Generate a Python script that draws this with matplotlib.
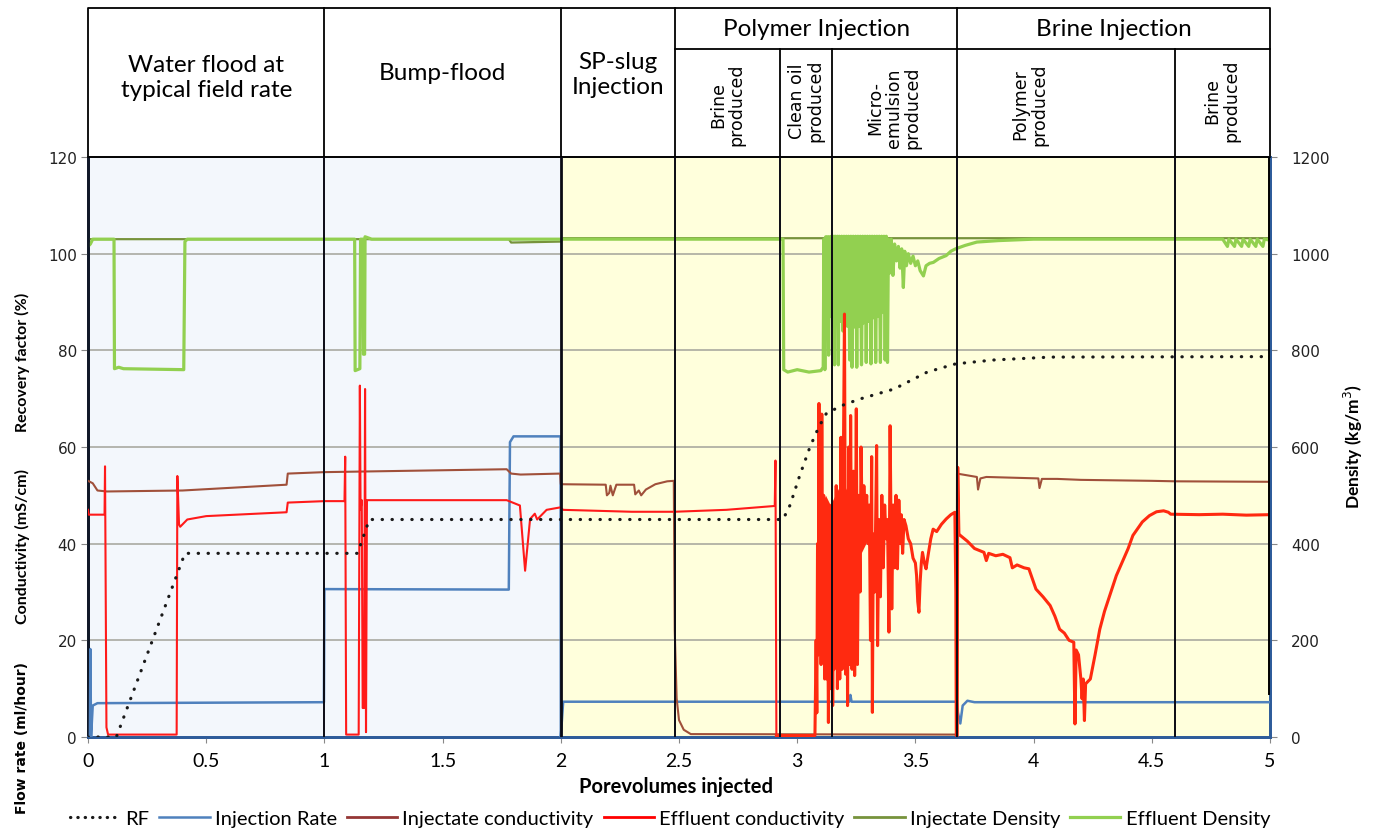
import numpy as np
import matplotlib
matplotlib.use("Agg")
import matplotlib.pyplot as plt
from matplotlib.lines import Line2D

# ---------------- data ----------------
rf_x = [0, 0.12, 0.41, 1.14, 1.19, 2.94, 2.97, 3.01, 3.054, 3.09, 3.124, 3.2, 3.27,
        3.41, 3.55, 3.67, 3.83, 4.07, 5.0]
rf_y = [0, 0, 38, 38, 45, 45, 48, 54, 60, 64, 67, 68.8, 70, 72, 75.5, 77.2, 78, 78.6, 78.7]

rate_x = [0, 0.008, 0.01, 0.013, 0.02, 0.04, 0.998, 1.0, 1.78, 1.785, 1.8, 1.999, 2.0,
          2.01, 3.22, 3.225, 3.23, 3.675, 3.68, 3.69, 3.70, 3.72, 3.75, 5.0]
rate_y = [0, 0, 18.2, 0, 6.5, 7.0, 7.2, 30.6, 30.5, 61, 62.2, 62.2, 0,
          7.3, 7.3, 8.7, 7.3, 7.3, 5.0, 2.8, 6.5, 7.5, 7.2, 7.2]

inj_cond_x = [0, 0.02, 0.04, 0.08, 0.4, 0.84, 0.845, 1.0, 1.771, 1.79, 1.83, 1.997,
              2.0, 2.19, 2.195, 2.205, 2.21, 2.22, 2.235, 2.31, 2.315, 2.33, 2.34, 2.36,
              2.4, 2.45, 2.478, 2.482, 2.49, 2.50, 2.52, 2.55, 3.674,
              3.676, 3.76, 3.765, 3.775, 3.8, 4.02, 4.025, 4.035, 4.1, 4.2, 4.5, 4.6, 5.0]
inj_cond_y = [53, 52.5, 51, 50.8, 51, 52.2, 54.5, 54.8, 55.4, 54.5, 54.3, 54.5,
              52.3, 52.2, 50, 50.5, 52, 50, 52.2, 52.2, 50.2, 51, 50, 51.2,
              52.3, 52.9, 53, 22, 8, 3.5, 1.5, 0.6, 0.5,
              54.5, 53.8, 51.2, 53.5, 53.8, 53.5, 51.5, 53.4, 53.4, 53.2, 53, 52.9, 52.8]

eff_cond_x = [0, 0.003, 0.07, 0.072, 0.078, 0.085, 0.375, 0.378, 0.385, 0.39, 0.42, 0.5,
              0.84, 0.845, 1.0, 1.085, 1.088, 1.092, 1.145, 1.15, 1.153, 1.158, 1.162,
              1.168, 1.172, 1.176, 1.18, 1.5, 1.771, 1.827, 1.849, 1.87, 1.89, 1.9,
              1.94, 1.997, 2.01, 2.3, 2.48, 2.7, 2.905, 2.908, 2.912,
              3.075, 3.08, 3.083, 3.086, 3.089, 3.092, 3.095, 3.098, 3.101, 3.104,
              3.108, 3.112, 3.116, 3.12, 3.124, 3.128, 3.132, 3.136, 3.14, 3.145,
              3.15, 3.155, 3.16, 3.165, 3.17, 3.175, 3.18, 3.185, 3.19, 3.195, 3.2,
              3.205, 3.21, 3.213, 3.218, 3.222, 3.226, 3.232, 3.238, 3.243, 3.25,
              3.255, 3.26, 3.266, 3.27, 3.276, 3.282, 3.288, 3.294, 3.3, 3.305, 3.31,
              3.315, 3.318, 3.322, 3.328, 3.336, 3.34, 3.346, 3.352, 3.358, 3.364,
              3.37, 3.376, 3.382, 3.388, 3.393, 3.4, 3.406, 3.412, 3.418, 3.424,
              3.43, 3.436, 3.44, 3.446, 3.452, 3.46, 3.47, 3.48, 3.49, 3.5, 3.505,
              3.51, 3.515, 3.52, 3.525, 3.53, 3.538, 3.545, 3.555, 3.565, 3.575,
              3.59, 3.61, 3.63, 3.65, 3.667, 3.671, 3.673, 3.677, 3.679, 3.684,
              3.69, 3.72, 3.75, 3.79, 3.8, 3.81, 3.84, 3.87, 3.9, 3.91, 3.93, 3.96,
              3.98, 4.0, 4.01, 4.04, 4.07, 4.09, 4.11, 4.13, 4.15, 4.17, 4.175,
              4.18, 4.19, 4.2, 4.205, 4.21, 4.215, 4.22, 4.24, 4.26, 4.28, 4.3,
              4.35, 4.4, 4.42, 4.46, 4.49, 4.52, 4.55, 4.57, 4.58, 4.7, 4.8, 4.9, 5.0]
eff_cond_y = [47, 46, 46, 56, 2, 0.5, 0.5, 54, 44, 43.5, 45, 45.7,
              46.5, 48.5, 48.8, 48.8, 58, 0.5, 0.5, 72.7, 47, 49, 6,
              6, 72, 1, 49, 49, 49, 47.9, 34.4, 45.1, 46.2, 45,
              47, 47.5, 47, 46.6, 46.6, 47, 47.8, 57.2, 0.3,
              0.3, 20, 5, 40, 17, 69, 25, 55, 15, 66.8,
              20, 50, 12, 45, 12, 38, 3, 30, 10, 48,
              6.5, 35, 15, 52, 10, 45, 12, 62, 14, 55, 87.5,
              13, 50, 6.5, 60, 15, 66.5, 14, 55, 12.7, 67.9,
              15, 50, 30, 60, 41, 52, 45, 50, 40, 48, 20,
              58, 5.1, 42, 30, 60.3, 18.9, 45, 29, 50, 35,
              48, 41, 45, 21.7, 64.4, 26.5, 48, 35, 50, 34.8,
              49, 40, 46, 38, 45, 43.7, 41, 40, 37, 36, 33.4,
              28, 25.8, 32, 36, 38.2, 36, 34.8, 38, 41, 43,
              42.5, 44, 45.1, 46, 46.5, 30, 0.3, 0.3, 55.8, 42,
              41.7, 40.5, 39, 38.2, 36.5, 38, 37.5, 37.8, 37.1, 35, 35.6, 35,
              34.8, 32, 30.6, 29, 27.2, 25, 22.3, 21.5, 20, 19.6, 2.7,
              18, 17, 12, 7.9, 12, 3.4, 11, 12, 17, 22.3, 26,
              33.4, 39, 41.7, 44.5, 45.8, 46.6, 46.8, 46.5, 46.1, 46, 46.1, 45.9, 46]

# dense (unresolved) part of the effluent conductivity trace: band edges
eff_cond_band_x = [3.088, 3.1, 3.12, 3.14, 3.16, 3.18, 3.2, 3.22, 3.24, 3.255, 3.27, 3.29, 3.305]
eff_cond_band_lo = [20, 16, 14, 13, 14, 15, 16, 17, 18, 28, 38, 40, 42]
eff_cond_band_hi = [40, 48, 50, 48, 50, 52, 52, 50, 48, 46, 47, 48, 46]

inj_dens_x = [0, 1.78, 1.79, 2.0, 2.01, 5.0]
inj_dens_y = [1030, 1030, 1023, 1025, 1032, 1032]

eff_dens_x = [0, 0.01, 0.02, 0.11, 0.112, 0.13, 0.15, 0.405, 0.41, 0.42, 1.128, 1.13,
              1.15, 1.153, 1.163, 1.165, 1.17, 1.172, 1.2, 2.94, 2.943, 2.96, 3.0,
              3.05, 3.1, 3.11, 3.113, 3.117, 3.121, 3.125, 3.129, 3.133, 3.137,
              3.141, 3.145, 3.150, 3.155, 3.158, 3.162, 3.166, 3.170, 3.174, 3.178,
              3.183, 3.188, 3.193, 3.198, 3.203, 3.208, 3.212, 3.217, 3.222, 3.227,
              3.232, 3.237, 3.242, 3.247, 3.252, 3.257, 3.262, 3.267, 3.272, 3.277,
              3.282, 3.287, 3.292, 3.297, 3.302, 3.307, 3.312, 3.317, 3.322, 3.327,
              3.332, 3.337, 3.342, 3.347, 3.352, 3.357, 3.362, 3.367, 3.372, 3.377,
              3.382, 3.386, 3.392, 3.398, 3.405, 3.412, 3.42, 3.428, 3.435, 3.442,
              3.449, 3.455, 3.462, 3.47, 3.48, 3.49, 3.5, 3.51, 3.52, 3.534, 3.545,
              3.56, 3.576, 3.6, 3.63, 3.65, 3.67, 3.71, 3.76, 3.85, 4.0, 4.8, 4.82,
              4.826, 4.85, 4.856, 4.88, 4.886, 4.91, 4.916, 4.94, 4.946, 4.97, 4.976, 5.0]
eff_dens_y = [1015, 1020, 1030, 1030, 762, 765, 762, 760, 1025, 1030, 1030, 758,
              762, 1030, 1030, 792, 792, 1035, 1030, 1030, 760, 755, 760,
              755, 758, 765, 1030, 760, 1035, 900, 1035, 790, 1035,
              870, 1036, 850, 1036, 770, 1036, 880, 1036, 770, 1036,
              860, 1036, 840, 1036, 870, 1036, 850, 1036, 780, 1036,
              765, 1036, 860, 1036, 765, 1036, 850, 1036, 770, 1036,
              860, 1036, 775, 1036, 860, 1036, 772, 1036, 870, 1036,
              775, 1036, 870, 1036, 775, 1036, 880, 1036, 780, 1036,
              775, 1030, 960, 1030, 955, 1020, 985, 1015, 970, 1010,
              930, 1005, 975, 1000, 980, 995, 975, 985, 965, 954, 975,
              980, 982, 990, 996, 1005, 1010, 1017, 1024, 1027, 1030, 1030, 1015,
              1030, 1015, 1030, 1015, 1030, 1015, 1030, 1015, 1030, 1015, 1030, 1028]

# dense (unresolved) part of the effluent density trace: band edges
eff_dens_band_x = [3.14, 3.16, 3.175, 3.2, 3.25, 3.3, 3.34, 3.37, 3.385]
eff_dens_band_lo = [990, 960, 870, 850, 845, 860, 870, 880, 900]
eff_dens_band_hi = [1036, 1037, 1037, 1038, 1037, 1036, 1036, 1035, 1032]

phase_lines = [1.0, 2.0, 2.483, 2.927, 3.147, 3.676, 4.60]
x_ticks = [0, 0.5, 1, 1.5, 2, 2.5, 3, 3.5, 4, 4.5, 5]
x_tick_labels = ["0", "0.5", "1", "1.5", "2", "2.5", "3", "3.5", "4", "4.5", "5"]
y_ticks = [0, 20, 40, 60, 80, 100, 120]
y2_ticks = [0, 200, 400, 600, 800, 1000, 1200]

main_headers = [(0.5, 80, "Water flood at\ntypical field rate"),
                (1.5, 85, "Bump-flood"),
                (2.242, 83, "SP-slug\nInjection"),
                (3.08, 129, "Polymer Injection"),
                (4.338, 129, "Brine Injection")]
sub_headers = [(2.705, 53, "Brine\nproduced"),
               (3.037, 57, "Clean oil\nproduced"),
               (3.41, 50, "Micro-\nemulsion\nproduced"),
               (3.985, 53, "Polymer\nproduced"),
               (4.795, 57, "Brine\nproduced")]

# ---------------- styling ----------------
W, H = 1377, 829
LAB = ["Lato", "DejaVu Sans"]
C_RF = "#1a1a1a"
C_RATE = "#4F81BD"
C_INJC = "#A0503A"
C_EFFC = "#FF2A10"
C_INJD = "#77933C"
C_EFFD = "#92D050"

fig = plt.figure(figsize=(W / 100, H / 100), dpi=100)
L, R, T, B = 88, 1270, 158, 738
ax2 = fig.add_axes([L / W, (H - B) / H, (R - L) / W, (B - T) / H])  # density (drawn below)
ax = fig.add_axes([L / W, (H - B) / H, (R - L) / W, (B - T) / H], sharex=ax2)
ax.set_zorder(ax2.get_zorder() + 1)
ax.patch.set_visible(False)

ax2.set_xlim(0, 5)
ax2.set_ylim(0, 1200)
ax.set_ylim(0, 120)

# backgrounds and grid on bottom axes
ax2.axvspan(0, 2, color="#F3F7FC", zorder=0, lw=0)
ax2.axvspan(2, 5, color="#FFFFDC", zorder=0, lw=0)
for g in y2_ticks[1:-1]:
    ax2.axhline(g, color="#A3A39A", lw=1.1, zorder=1)

ax2.plot(inj_dens_x, inj_dens_y, color=C_INJD, lw=1.6, zorder=3)
ax2.fill_between(eff_dens_band_x, eff_dens_band_lo, eff_dens_band_hi, color=C_EFFD,
                 lw=0, zorder=4)
ax2.plot(eff_dens_x, eff_dens_y, color=C_EFFD, lw=2.3, zorder=4)

ax.plot(rate_x, rate_y, color=C_RATE, lw=1.8, zorder=3)
ax.plot(inj_cond_x, inj_cond_y, color=C_INJC, lw=1.5, zorder=4)
ecx = np.array(eff_cond_x)
ecy = np.array(eff_cond_y)
m1 = ecx <= 2.912
m2 = ecx >= 2.912
ax.plot(ecx[m1], ecy[m1], color="#FF1A1A", lw=1.5, zorder=5)
ax.fill_between(eff_cond_band_x, eff_cond_band_lo, eff_cond_band_hi, color=C_EFFC,
                lw=0, zorder=5)
ax.plot(ecx[m2], ecy[m2], color=C_EFFC, lw=2.2, zorder=5)
ax.plot(rf_x, rf_y, color=C_RF, lw=2.3, linestyle=(0, (0.1, 3.0)),
        dash_capstyle="round", zorder=6)

for xv in phase_lines:
    ax.axvline(xv, color="#0A0A14", lw=2.0 if xv == 2.0 else 1.4, zorder=7)
ax.plot([4.995, 4.995], [9, 120], color="black", lw=1.4, zorder=7)

# spines
for a in (ax, ax2):
    a.spines["left"].set_color("#101828")
    a.spines["left"].set_linewidth(2)
    a.spines["bottom"].set_color("#2E5C9A")
    a.spines["bottom"].set_linewidth(2)
    a.spines["right"].set_color("#2E5C9A")
    a.spines["right"].set_linewidth(2)
    a.spines["top"].set_color("black")
    a.spines["top"].set_linewidth(1.2)

ax.set_yticks(y_ticks)
ax.set_yticklabels([str(v) for v in y_ticks], fontsize=11, family="DejaVu Sans", color="#222222")
ax.tick_params(axis="y", direction="out", length=5, color="#888888", pad=3)
ax2.set_yticks(y2_ticks)
ax2.yaxis.tick_right()
ax2.set_yticklabels([str(v) for v in y2_ticks], fontsize=11, family="DejaVu Sans", color="#222222")
ax2.tick_params(axis="y", direction="out", length=5, color="#888888", pad=10)
ax.set_xticks(x_ticks)
ax.set_xticklabels(x_tick_labels, fontsize=14, family=LAB)
ax.tick_params(axis="x", direction="out", length=4, color="#888888", pad=7)
ax2.tick_params(axis="x", labelbottom=False, length=0)

fig.text(676 / W, 1 - 787 / H, "Porevolumes injected", ha="center", va="center",
         fontsize=14.5, fontweight="bold", family=LAB)
fig.text(22 / W, 1 - 362 / H, "Recovery factor (%)", rotation=90, ha="center", va="center",
         fontsize=11.5, fontweight="bold", family=LAB)
fig.text(22 / W, 1 - 547 / H, "Conductivity (mS/cm)", rotation=90, ha="center", va="center",
         fontsize=11.5, fontweight="bold", family=LAB)
fig.text(22 / W, 1 - 738 / H, "Flow rate (ml/hour)", rotation=90, ha="center", va="center",
         fontsize=10, fontweight="bold", family="DejaVu Sans")
fig.text(1353 / W, 1 - 447 / H, "Density (kg/m$^3$)", rotation=90, ha="center", va="center",
         fontsize=12.5, fontweight="bold", family=LAB)

# ---------------- header boxes ----------------
hd = fig.add_axes([L / W, (H - T) / H, (R - L) / W, (T - 9) / H])
hd.set_xlim(0, 5)
hd.set_ylim(0, T - 9)
hd.axis("off")
top = T - 9
kw = dict(color="black", lw=1.3, clip_on=False)
hd.plot([0, 0, 5, 5], [0, top, top, 0], **kw)
for xv in [1.0, 2.0, 2.483, 3.676]:
    hd.plot([xv, xv], [0, top], **kw)
hd.plot([2.483, 5], [108, 108], **kw)
for xv in [2.927, 3.147, 4.60]:
    hd.plot([xv, xv], [0, 108], **kw)
for x0, y0, s in main_headers:
    hd.text(x0, y0, s, ha="center", va="center", fontsize=17.5, family=LAB,
            linespacing=1.25)
for x0, y0, s in sub_headers:
    hd.text(x0, y0, s, ha="center", va="center", rotation=90, fontsize=12.5,
            family="DejaVu Sans", multialignment="center", linespacing=1.05)

# ---------------- legend ----------------
handles = [
    Line2D([], [], color=C_RF, lw=2.3, linestyle=(0, (0.1, 2.2)), dash_capstyle="round"),
    Line2D([], [], color=C_RATE, lw=1.8),
    Line2D([], [], color="#953735", lw=2),
    Line2D([], [], color="#FF0000", lw=2),
    Line2D([], [], color=C_INJD, lw=2),
    Line2D([], [], color=C_EFFD, lw=2.3),
]
labels = ["RF", "Injection Rate", "Injectate conductivity", "Effluent conductivity",
          "Injectate Density", "Effluent Density"]
fig.legend(handles, labels, loc="center", bbox_to_anchor=(670 / W, 1 - 819 / H), ncol=6,
           frameon=False, prop={"family": LAB, "size": 14.5}, handlelength=2.5,
           handletextpad=0.25, columnspacing=0.5, borderpad=0.1)

fig.savefig("out.png", dpi=100)
